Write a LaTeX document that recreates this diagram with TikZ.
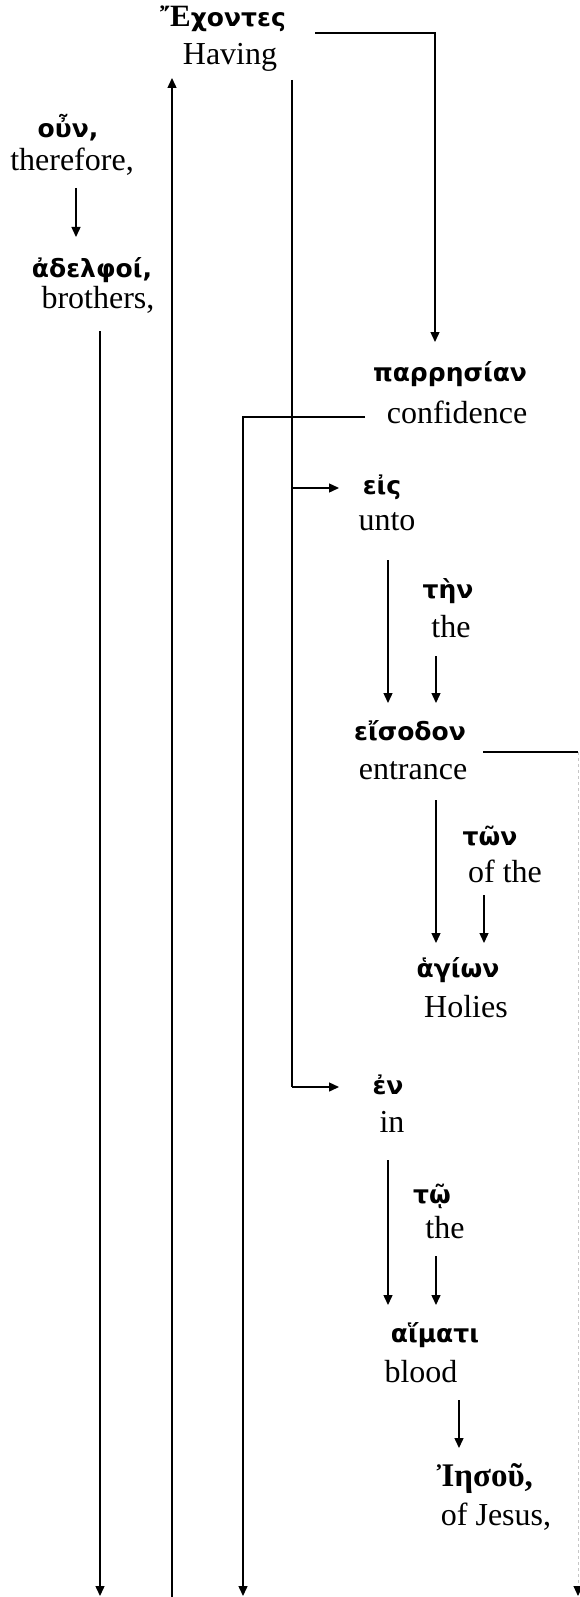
\documentclass[tikz,border=0pt]{standalone}
\usepackage{fontspec}
\setmainfont{Liberation Serif}
\newfontfamily\grkfont{DejaVu Sans}
\newfontfamily\grkserif{Liberation Serif}
\usetikzlibrary{arrows.meta,positioning}

\begin{document}
\begin{tikzpicture}[x=1pt,y=-1pt,
    grk/.style={anchor=base,inner sep=0pt,font=\fontsize{25}{28}\grkfont\bfseries},
    eng/.style={anchor=base,inner sep=0pt,font=\fontsize{32}{36}\selectfont},
    link/.style={line width=1.4pt},
    arr/.style={link,-{Triangle[length=10pt,width=9pt]}}]
        \useasboundingbox (0,0) rectangle (579,1597);
        % words
        \node[grk] (echontes) at (223,27) {{\fontsize{31}{34}\grkserif\bfseries Ἔ}χοντες};
        \node[eng] (having) at (230,65) {Having};
        \node[grk] (oun) at (68,138) {οὖν,};
        \node[eng] (therefore) at (72,171) {therefore,};
        \node[grk] (adelphoi) at (92,277) {ἀδελφοί,};
        \node[eng] (brothers) at (98,308) {brothers,};
        \node[grk] (parresian) at (450,381) {παρρησίαν};
        \node[eng] (confidence) at (457,423) {confidence};
        \node[grk] (eis) at (382,494) {εἰς};
        \node[eng] (unto) at (387,530) {unto};
        \node[grk] (ten) at (448,598) {τὴν};
        \node[eng] (theA) at (451,637) {the};
        \node[grk] (eisodon) at (410,740) {εἴσοδον};
        \node[eng] (entrance) at (413,779) {entrance};
        \node[grk] (ton) at (490,845) {τῶν};
        \node[eng] (ofthe) at (505,882) {of the};
        \node[grk] (hagion) at (458,977) {ἁγίων};
        \node[eng] (holies) at (466,1017) {Holies};
        \node[grk] (en) at (388,1094) {ἐν};
        \node[eng] (in) at (392,1132) {in};
        \node[grk] (to) at (432,1203) {τῷ};
        \node[eng] (theB) at (445,1238) {the};
        \node[grk] (haimati) at (435,1342) {αἵματι};
        \node[eng] (blood) at (421,1382) {blood};
        \node[grk,font=\fontsize{33}{36}\grkserif\bfseries] (iesou) at (485,1486) {Ἰησοῦ,};
        \node[eng] (ofjesus) at (496,1525) {of Jesus,};
        % joints and free ends
        \coordinate (echontesout) at (315,33);
        \coordinate (echontescorner) at (435,33);
        \coordinate (parresianin) at (435,342);
        \coordinate (spinetop) at (292,80);
        \coordinate (spinebottom) at (292,1087);
        \coordinate (eisin) at (339,488);
        \coordinate (enin) at (339,1087);
        \coordinate (upfoot) at (172,1597);
        \coordinate (uptip) at (172,78);
        \coordinate (thereforeout) at (76,188);
        \coordinate (adelphoiin) at (76,237);
        \coordinate (brothersout) at (100,331);
        \coordinate (brothersfoot) at (100,1596);
        \coordinate (confidenceout) at (365,417);
        \coordinate (confidencecorner) at (243,417);
        \coordinate (confidencefoot) at (243,1596);
        \coordinate (untoout) at (388,560);
        \coordinate (eisodonin) at (388,703);
        \coordinate (theAout) at (436,656);
        \coordinate (theAin) at (436,703);
        \coordinate (eisodonout) at (483,752);
        \coordinate (eisodoncorner) at (578,752);
        \coordinate (eisodonfoot) at (578,1596);
        \coordinate (entranceout) at (436,800);
        \coordinate (hagionin) at (436,943);
        \coordinate (oftheout) at (484,895);
        \coordinate (oftheIn) at (484,943);
        \coordinate (inout) at (388,1160);
        \coordinate (haimatiin) at (388,1305);
        \coordinate (theBout) at (436,1256);
        \coordinate (theBin) at (436,1305);
        \coordinate (bloodout) at (459,1400);
        \coordinate (iesouin) at (459,1448);
        % connectors
        \draw[arr] (echontesout) -- (echontescorner) -- (parresianin);
        \draw[link] (spinetop) -- (spinebottom);
        \draw[arr] (spinetop |- eisin) -- (eisin);
        \draw[arr] (spinebottom) -- (enin);
        \draw[arr] (upfoot) -- (uptip);
        \draw[arr] (thereforeout) -- (adelphoiin);
        \draw[arr] (brothersout) -- (brothersfoot);
        \draw[arr] (confidenceout) -- (confidencecorner) -- (confidencefoot);
        \draw[arr] (untoout) -- (eisodonin);
        \draw[arr] (theAout) -- (theAin);
        \draw[link] (eisodonout) -- (eisodoncorner);
        \draw[gray!45,line width=1pt,dashed,-{Triangle[length=10pt,width=9pt,color=black]}]
          (eisodoncorner) -- (eisodonfoot);
        \draw[arr] (entranceout) -- (hagionin);
        \draw[arr] (oftheout) -- (oftheIn);
        \draw[arr] (inout) -- (haimatiin);
        \draw[arr] (theBout) -- (theBin);
        \draw[arr] (bloodout) -- (iesouin);
      \end{tikzpicture}
\end{document}
